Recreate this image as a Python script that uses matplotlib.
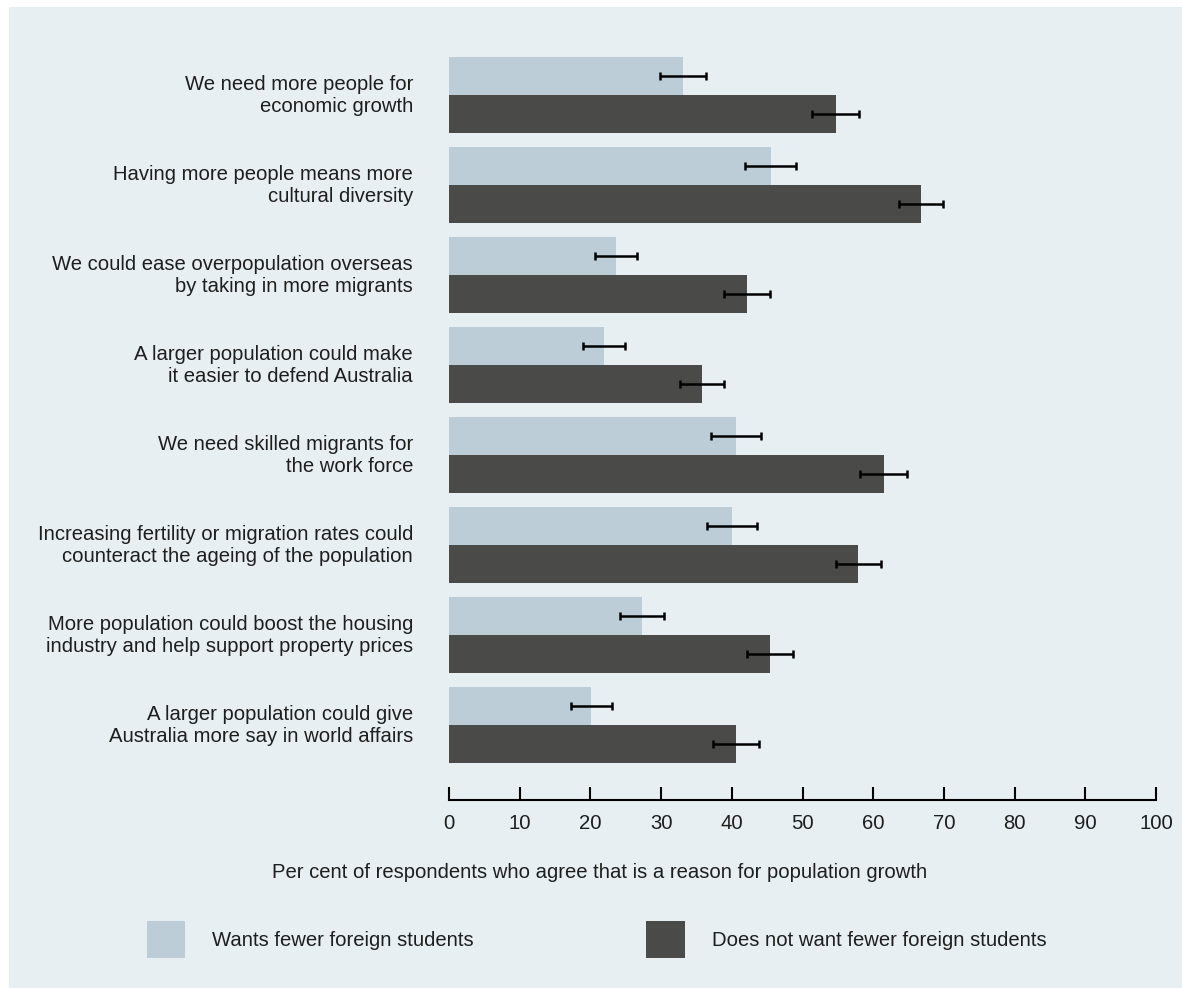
import matplotlib
matplotlib.use("Agg")
import matplotlib.pyplot as plt
from matplotlib.patches import Rectangle
import numpy as np

plt.rcParams['font.family'] = ['Liberation Sans', 'DejaVu Sans']

reasons = [
    "We need more people for\neconomic growth",
    "Having more people means more\ncultural diversity",
    "We could ease overpopulation overseas\nby taking in more migrants",
    "A larger population could make\nit easier to defend Australia",
    "We need skilled migrants for\nthe work force",
    "Increasing fertility or migration rates could\ncounteract the ageing of the population",
    "More population could boost the housing\nindustry and help support property prices",
    "A larger population could give\nAustralia more say in world affairs",
]
wants_fewer = [33.1, 45.5, 23.6, 21.9, 40.6, 40.0, 27.3, 20.1]
wants_fewer_err = [3.25, 3.6, 3.0, 3.0, 3.5, 3.5, 3.1, 2.9]
not_fewer = [54.7, 66.8, 42.1, 35.8, 61.5, 57.9, 45.4, 40.6]
not_fewer_err = [3.3, 3.1, 3.25, 3.1, 3.3, 3.2, 3.25, 3.3]
ticks = [0, 10, 20, 30, 40, 50, 60, 70, 80, 90, 100]
legend_labels = ["Wants fewer foreign students", "Does not want fewer foreign students"]

light = "#bccdd8"
dark = "#4a4a48"
panel = "#e8eff3"
txt = "#1e1e1e"
fs = 14.6

W, H = 1182, 988
fig = plt.figure(figsize=(W / 100, H / 100), dpi=100, facecolor="white")
fig.add_artist(Rectangle((9 / W, 0), 1, 1 - 7 / H, transform=fig.transFigure,
                         facecolor=panel, edgecolor="none", zorder=-10))

ax = fig.add_axes([449 / W, 1 - 800 / H, (1156 - 449) / W, 750 / H])
ax.set_facecolor("none")

y = np.arange(len(reasons))
h = 38 / 90
ax.barh(y - h / 2, wants_fewer, height=h, color=light)
ax.barh(y + h / 2, not_fewer, height=h, color=dark)
ax.errorbar(wants_fewer, y - h / 2, xerr=wants_fewer_err, fmt="none",
            ecolor="black", elinewidth=1.8, capsize=3, capthick=1.8)
ax.errorbar(not_fewer, y + h / 2, xerr=not_fewer_err, fmt="none",
            ecolor="black", elinewidth=1.8, capsize=3, capthick=1.8)

ax.set_xlim(0, 100)
ax.set_ylim(7.833, -0.5)
ax.set_xticks(ticks)
ax.set_yticks(y - 0.03)
ax.set_yticklabels(reasons, ha="right", fontsize=fs, color=txt, linespacing=1.2)
ax.tick_params(axis="y", length=0, pad=26)
ax.tick_params(axis="x", direction="in", length=9.5, width=1.5, labelsize=fs,
               pad=10, labelcolor=txt)
for s in ["top", "right", "left"]:
    ax.spines[s].set_visible(False)
ax.spines["bottom"].set_linewidth(1.5)

fig.text(600 / W, 1 - 872 / H, "Per cent of respondents who agree that is a reason for population growth",
         ha="center", va="center", fontsize=fs, color=txt)

# legend
fig.add_artist(Rectangle((147 / W, 1 - 958 / H), 38 / W, 37 / H, transform=fig.transFigure,
                         facecolor=light, edgecolor="none"))
fig.add_artist(Rectangle((646 / W, 1 - 958 / H), 39 / W, 37 / H, transform=fig.transFigure,
                         facecolor=dark, edgecolor="none"))
fig.text(212 / W, 1 - 940 / H, legend_labels[0], ha="left", va="center", fontsize=fs, color=txt)
fig.text(712 / W, 1 - 940 / H, legend_labels[1], ha="left", va="center", fontsize=fs, color=txt)

fig.savefig("out.png", dpi=100, facecolor="white")
